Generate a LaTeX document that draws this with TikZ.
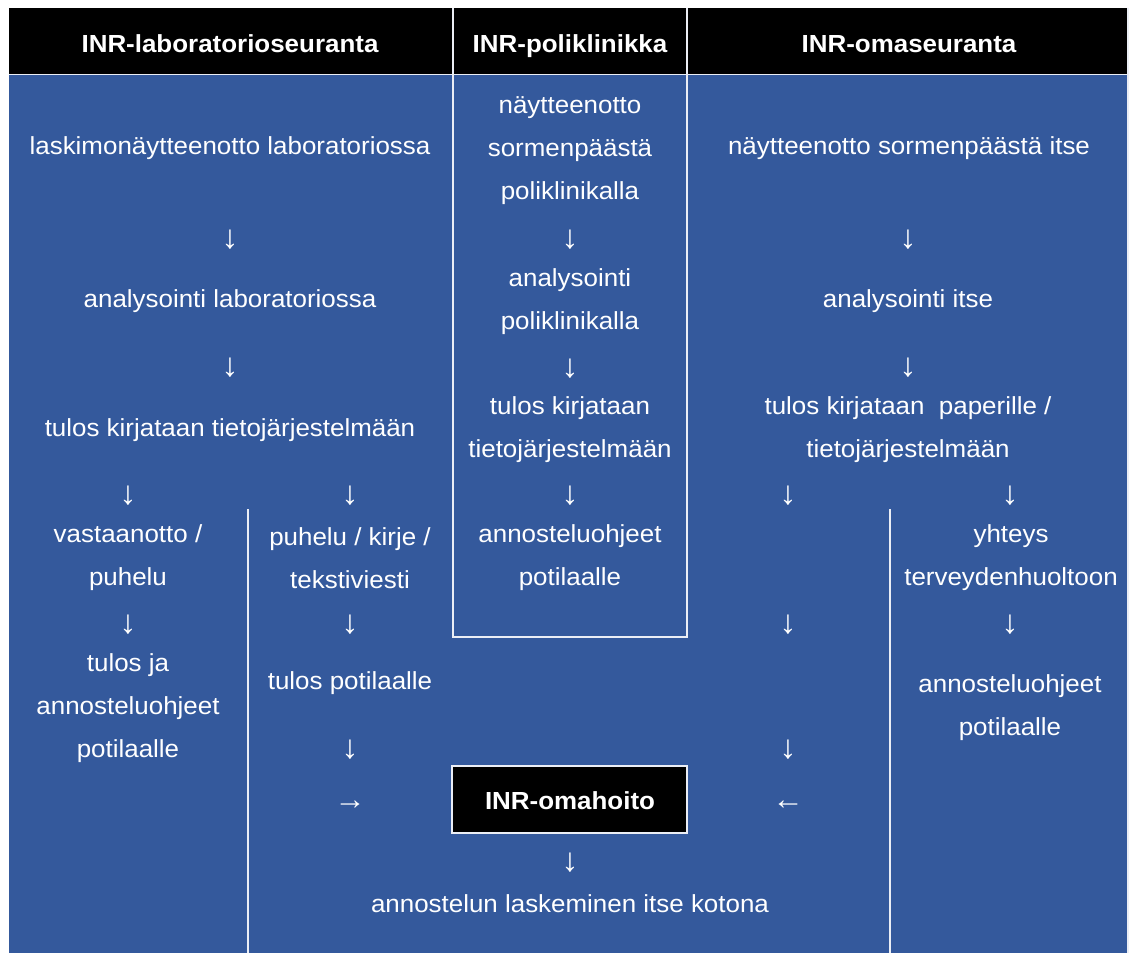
\documentclass[tikz,border=0pt]{standalone}
\usepackage{fontspec}
\setmainfont{Liberation Sans}[FakeStretch=1.05]
\definecolor{bg}{RGB}{52,89,156}
\definecolor{lineclr}{RGB}{235,238,245}
\begin{document}
\begin{tikzpicture}[x=1pt,y=-1pt,
  txt/.style={text=white, font=\fontsize{24.7}{43}\selectfont, align=center, inner sep=0pt, yshift=-3pt},
  hdr/.style={text=white, font=\bfseries\fontsize{24.7}{28}\selectfont, inner sep=0pt, anchor=base},
  darr/.style={text=white, font=\fontsize{33}{36}\selectfont, inner sep=0pt, yshift=-3pt},
  harr/.style={text=white, font=\fontsize{30}{34}\selectfont, inner sep=0pt, yshift=-2pt},
  wline/.style={draw=lineclr, line width=2pt}]
\useasboundingbox (0,0) rectangle (1130,953);
\fill[white] (0,0) rectangle (1130,953);
\fill[bg] (9,74) rectangle (1128,953);
\fill[black] (9,8) rectangle (1128,74);
\draw[lineclr, line width=1pt] (9,74) -- (1128,74);
\draw[lineclr, line width=1.5pt] (1128,8) -- (1128,953);
% poliklinikka column frame
\draw[wline] (453,8) -- (453,637) -- (687,637) -- (687,8);
% split lines
\draw[wline] (248,509) -- (248,953);
\draw[wline] (890,509) -- (890,953);
% headers
\node[hdr] (h1) at (230,52) {INR-laboratorioseuranta};
\node[hdr] (h2) at (570,52) {INR-poliklinikka};
\node[hdr] (h3) at (909,52) {INR-omaseuranta};
% left column
\node[txt] (l1) at (230,145) {laskimonäytteenotto laboratoriossa};
\node[darr] (la1) at (230,237) {↓};
\node[txt] (l2) at (230,298) {analysointi laboratoriossa};
\node[darr] (la2) at (230,365) {↓};
\node[txt] (l3) at (230,427) {tulos kirjataan tietojärjestelmään};
\node[darr] (la3) at (128,493) {↓};
\node[darr] (la4) at (350,493) {↓};
\node[txt] (l4) at (128,555) {vastaanotto /\\puhelu};
\node[darr] (la5) at (128,622) {↓};
\node[txt] (l5) at (128,705) {tulos ja\\annosteluohjeet\\potilaalle};
\node[txt] (l6) at (350,555) {puhelu / kirje /\\tekstiviesti};
\node[darr] (la6) at (350,622) {↓};
\node[txt] (l7) at (350,680) {tulos potilaalle};
\node[darr] (la7) at (350,747) {↓};
\node[harr] (la8) at (350,803) {→};
% middle column
\node[txt] (m1) at (570,148) {näytteenotto\\sormenpäästä\\poliklinikalla};
\node[darr] (ma1) at (570,237) {↓};
\node[txt] (m2) at (570,298.5) {analysointi\\poliklinikalla};
\node[darr] (ma2) at (570,366) {↓};
\node[txt] (m3) at (570,426.5) {tulos kirjataan\\tietojärjestelmään};
\node[darr] (ma3) at (570,493) {↓};
\node[txt] (m4) at (570,555) {annosteluohjeet\\potilaalle};
\draw[fill=black, draw=lineclr, line width=2pt] (452,766) rectangle (687,833);
\node[hdr] (om) at (570,809) {INR-omahoito};
\node[darr] (ma4) at (570,860) {↓};
\node[txt] (m5) at (570,901) {annostelun laskeminen itse kotona};
% right column
\node[txt] (r1) at (909,145) {näytteenotto sormenpäästä itse};
\node[darr] (ra1) at (908,237) {↓};
\node[txt] (r2) at (908,298) {analysointi itse};
\node[darr] (ra2) at (908,365) {↓};
\node[txt] (r3) at (908,426.5) {tulos kirjataan\ \ paperille /\\tietojärjestelmään};
\node[darr] (ra3) at (788,493) {↓};
\node[darr] (ra4) at (1010,493) {↓};
\node[txt] (r4) at (1011,555) {yhteys\\terveydenhuoltoon};
\node[darr] (ra5) at (788,622) {↓};
\node[darr] (ra6) at (1010,622) {↓};
\node[txt] (r5) at (1010,705) {annosteluohjeet\\potilaalle};
\node[darr] (ra7) at (788,747) {↓};
\node[harr] (ra8) at (788,803) {←};
\end{tikzpicture}
\end{document}
